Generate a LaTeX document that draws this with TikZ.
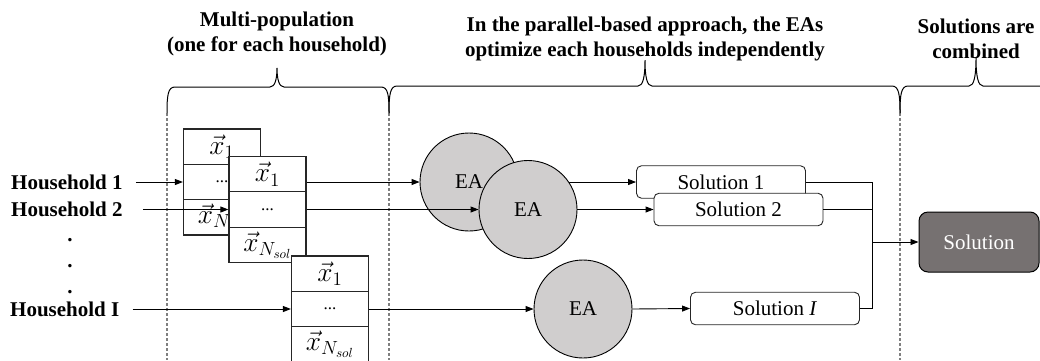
\documentclass[tikz,border=0pt]{standalone}
\usepackage{fontspec}
\setmainfont{Liberation Serif}
\usetikzlibrary{arrows.meta}
\definecolor{eagray}{HTML}{D0CECE}
\definecolor{findark}{HTML}{767171}
\definecolor{guidegray}{HTML}{7F7F7F}
% a member of a population, typeset a little larger than the math default
\newcommand\popmember[1]{\scalebox{1.32}{$\vec{x}_{#1}$}}

\begin{document}
\begin{tikzpicture}[x=1pt,y=-1pt,
  head/.style={font=\fontsize{21}{24.5}\selectfont\bfseries, align=center, anchor=north, inner sep=0pt},
  hh/.style={font=\fontsize{21}{25}\selectfont\bfseries, anchor=west, inner sep=0pt, text height=14pt, text depth=0pt},
  vdot/.style={font=\fontsize{21}{25}\selectfont\bfseries, anchor=base, inner sep=0pt},
  cell/.style={draw=black!85, line width=1.2pt, fill=white, minimum width=77pt, minimum height=35.3pt, inner sep=0pt, font=\fontsize{20}{24}\selectfont},
  ea/.style={circle, draw=black, line width=0.9pt, fill=eagray, minimum size=98pt, inner sep=0pt, font=\fontsize{21}{25}\selectfont},
  sol/.style={draw=black!85, line width=0.9pt, rounded corners=5pt, fill=white, minimum width=169pt, minimum height=32.5pt, inner sep=0pt, font=\fontsize{21}{25}\selectfont},
  final/.style={draw=black, line width=1pt, rounded corners=9pt, fill=findark, text=white!95, minimum width=120pt, minimum height=60pt, inner sep=0pt, font=\fontsize{21}{25}\selectfont},
  arr/.style={-{Triangle[length=8pt,width=6pt]}, line width=0.9pt},
  link/.style={line width=0.9pt},
  guide/.style={draw=guidegray, line width=1.3pt, dash pattern=on 3pt off 2pt},
  bracepath/.style={line width=1pt}
]
\useasboundingbox (0,0) rectangle (1040,360);

% section guides
\draw[guide] (167,113) -- (167,360);
\draw[guide] (389,113) -- (389,360);
\draw[guide] (900,113) -- (900,360);

% braces over the three sections
\draw[bracepath] (167,113) .. controls (167,95) and (168,87) .. (175,87) -- (270,87)
  .. controls (275,87) and (277,79) .. (277,68) .. controls (277,79) and (279,87) .. (284,87)
  -- (381,87) .. controls (388,87) and (389,95) .. (389,113);
\draw[bracepath] (389,113) .. controls (389,95) and (390,86) .. (397,86) -- (638,86)
  .. controls (643,86) and (645,77) .. (645,60) .. controls (645,77) and (647,86) .. (652,86)
  -- (892,86) .. controls (899,86) and (900,95) .. (900,113);
\draw[bracepath] (900,113) .. controls (900,95) and (901,86) .. (908,86) -- (969,86)
  .. controls (974,86) and (976,76) .. (976,58) .. controls (976,76) and (978,86) .. (983,86)
  -- (1044,86) .. controls (1051,86) and (1052,95) .. (1052,113);

% section headings
\node[head] (t1) at (277,12) {Multi-population\\(one for each household)};
\node[head] (t2) at (645,17) {In the parallel-based approach, the EAs\\optimize each households independently};
\node[head] (t3) at (976,19) {Solutions are\\combined};

% household inputs
\node[hh] (h1) at (11,182) {Household 1};
\node[hh] (h2) at (11,209.5) {Household 2};
\node[hh] (hI) at (10,309) {Household I};
\node[vdot] (d1) at (70,241.5) {.};
\node[vdot] (d2) at (70,267.5) {.};
\node[vdot] (d3) at (70,293.5) {.};

% population of household 1
\node[cell] (s1a) at (222,146.7) {\popmember{1}};
\node[cell] (s1b) at (222,182) {{\fontsize{17}{17}\selectfont ...}};
\node[cell] (s1c) at (222,217.3) {\popmember{N_{sol}}};

\node[ea] (ea1) at (469,182) {EA};
\node[sol] (sol1) at (721,182) {Solution 1};
\draw[arr] (s1b.east) -- (ea1.west);
\draw[arr] (ea1.east) -- (sol1.west);

% population of household 2
\node[cell] (s2a) at (267.5,174.2) {\popmember{1}};
\node[cell] (s2b) at (267.5,209.5) {{\fontsize{17}{17}\selectfont ...}};
\node[cell] (s2c) at (267.5,244.8) {\popmember{N_{sol}}};

\node[ea] (ea2) at (528,209.5) {EA};
\node[sol] (sol2) at (738.5,209.5) {Solution 2};

\draw[arr] ([xshift=13pt]h1.east) -- (s1b.west);
\draw[arr] ([xshift=20pt]h2.east) -- (s2b.west);
\draw[arr] (s2b.east) -- (ea2.west);
\draw[arr] (ea2.east) -- (sol2.west);

% population of household I
\node[cell] (s3a) at (330,273.7) {\popmember{1}};
\node[cell] (s3b) at (330,309) {{\fontsize{17}{17}\selectfont ...}};
\node[cell] (s3c) at (330,344.3) {\popmember{N_{sol}}};

\node[ea] (ea3) at (583,309) {EA};
\node[sol] (solI) at (775,308.5) {Solution \textit{I}};

\draw[arr] ([xshift=13pt]hI.east) -- (s3b.west);
\draw[arr] (s3b.east) -- (ea3.west);
\draw[arr] (ea3.east) -- (solI.west);

% combination of the solutions
\node[final] (fin) at (979,242) {Solution};
\coordinate (j) at (872,242);
\draw[link] (sol1.east) -| (j);
\draw[link] (sol2.east) -| (j);
\draw[link] (solI.east) -| (j);
\draw[arr] (j) -- (fin.west);
\end{tikzpicture}
\end{document}
